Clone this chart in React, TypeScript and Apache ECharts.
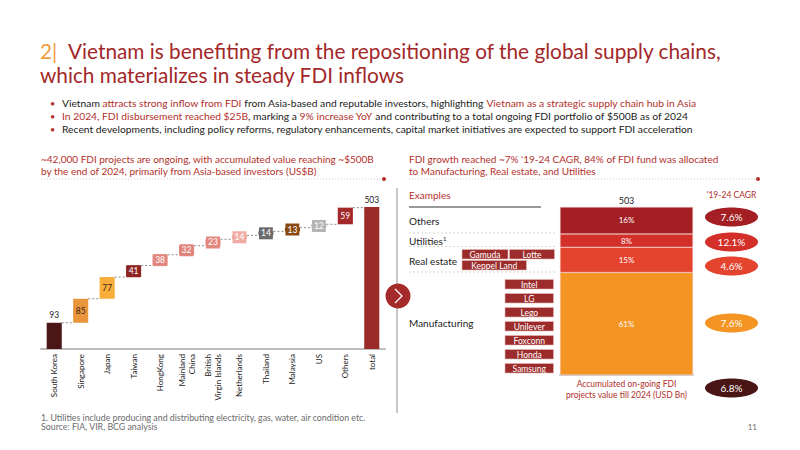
import React, { useEffect, useRef } from "react";
import * as echarts from "echarts";

// ---------- data ----------
const CATEGORIES = [
  "South Korea", "Singapore", "Japan", "Taiwan", "HongKong", "Mainland\nChina",
  "British\nVirgin Islands", "Netherlands", "Thailand", "Malaysia", "US", "Others", "total",
];
const VALUES = [93, 85, 77, 41, 38, 32, 23, 14, 14, 13, 12, 59, 503];
const BAR_COLORS = [
  "#4A1616", "#E9953C", "#F7AE3B", "#8E2424", "#E2877D", "#E0857B", "#E2877D",
  "#F0ABA4", "#6B6B6D", "#8A4A14", "#B4B4B4", "#A2282A", "#9B2B29",
];
const SECTORS = ["Manufacturing", "Real estate", "Utilities", "Others"];
const SECTOR_SHARE = [61, 15, 8, 16];
const SECTOR_COLORS = ["#F39423", "#E4432E", "#D3302A", "#A31F23"];
const SECTOR_CAGR = ["7.6%", "4.6%", "12.1%", "7.6%"];
const TOTAL_CAGR = "6.8%";
const TOTAL_FDI = 503;
const REAL_ESTATE_EXAMPLES = ["Gamuda", "Lotte", "Keppel Land"];
const MANUFACTURING_EXAMPLES = ["Intel", "LG", "Lego", "Unilever", "Foxconn", "Honda", "Samsung"];

const FONT = "Lato";
const RED = "#A3282A";
const ACCENT = "#B3302C";
const TAG = "#9B2C2B";

function txt(text: string, x: number, y: number, size: number, fill: string, align = "left", extra: any = {}) {
  return {
    type: "text",
    x, y,
    silent: true,
    style: { text, fill, fontSize: size, fontFamily: FONT, textAlign: align, textVerticalAlign: "middle", ...extra },
  };
}

export default function App() {
  const ref = useRef<HTMLDivElement>(null);
  useEffect(() => {
    if (!ref.current) return;
    const chart = echarts.init(ref.current, null, { renderer: "svg" });

    const n = VALUES.length;
    const bases: number[] = [];
    let cum = 0;
    for (let i = 0; i < n; i++) {
      if (i === n - 1) bases.push(0);
      else { bases.push(cum); cum += VALUES[i]; }
    }
    const ends = VALUES.map((v, i) => bases[i] + v);

    const barData = VALUES.map((v, i) => {
      const top = i === 0 || i === n - 1;
      const dark = i === 1 || i === 2;
      return {
        value: v,
        itemStyle: { color: BAR_COLORS[i] },
        label: top
          ? { position: "top", color: "#222", distance: 3 }
          : {
              position: "inside",
              color: dark ? "#3A2514" : "#fff",
              backgroundColor: BAR_COLORS[i],
              padding: [2, 2, 1, 2],
            },
      };
    });

    const connectors = VALUES.slice(0, n - 1).map((_, i) => [i, ends[i]]);

    const BS = 10.3;
    const rich = (size: number) => ({
      a: { fill: "#222", fontSize: size, fontFamily: FONT },
      r: { fill: ACCENT, fontSize: size, fontFamily: FONT },
    });

    const graphics: any[] = [];
    // Title
    graphics.push(txt("2|", 40, 50, 20.8, "#F39C3C"));
    graphics.push(txt("Vietnam is benefiting from the repositioning of the global supply chains,", 68, 50, 20.8, RED));
    graphics.push(txt("which materializes in steady FDI inflows", 40, 74, 20.8, RED));

    // Bullets
    const bulletY = [103, 116, 129];
    bulletY.forEach((y) => graphics.push(txt("•", 50, y, 9, ACCENT)));
    graphics.push(txt(
      "{a|Vietnam }{r|attracts strong inflow from FDI}{a| from Asia-based and reputable investors, highlighting }{r|Vietnam as a strategic supply chain hub in Asia}",
      62, 103, BS, "#222", "left", { rich: rich(BS) }));
    graphics.push(txt(
      "{r|In 2024, FDI disbursement reached $25B}{a|, marking a }{r|9% increase YoY}{a| and contributing to a total ongoing FDI portfolio of $500B as of 2024}",
      62, 116, BS, "#222", "left", { rich: rich(BS) }));
    graphics.push(txt(
      "Recent developments, including policy reforms, regulatory enhancements, capital market initiatives are expected to support FDI acceleration",
      62, 129, BS, "#222"));

    // Left subtitle
    graphics.push(txt("~42,000 FDI projects are ongoing, with accumulated value reaching ~$500B", 41, 159, 10, ACCENT));
    graphics.push(txt("by the end of 2024, primarily from Asia-based investors (US$B)", 41, 171, 10, ACCENT));
    graphics.push({ type: "line", silent: true, shape: { x1: 41, y1: 179, x2: 382, y2: 179 }, style: { stroke: "#CFCFCF", lineWidth: 1, lineDash: [1, 2] } });
    graphics.push({ type: "circle", silent: true, shape: { cx: 384, cy: 179, r: 2 }, style: { fill: ACCENT } });

    // Right subtitle
    graphics.push(txt("FDI growth reached ~7% '19-24 CAGR, 84% of FDI fund was allocated", 409, 159, 10, ACCENT));
    graphics.push(txt("to Manufacturing, Real estate, and Utilities", 409, 171, 10, ACCENT));
    graphics.push({ type: "line", silent: true, shape: { x1: 409, y1: 179, x2: 756, y2: 179 }, style: { stroke: "#CFCFCF", lineWidth: 1, lineDash: [1, 2] } });
    graphics.push({ type: "circle", silent: true, shape: { cx: 758, cy: 179, r: 2 }, style: { fill: ACCENT } });

    // Divider + arrow
    graphics.push({ type: "line", silent: true, shape: { x1: 397, y1: 188, x2: 397, y2: 413 }, style: { stroke: "#C8C8C8", lineWidth: 2 } });
    graphics.push({ type: "circle", silent: true, shape: { cx: 398, cy: 296, r: 12.5 }, style: { fill: "#A52A2A" } });
    graphics.push({ type: "polyline", silent: true, shape: { points: [[395, 289], [402, 296], [395, 303]] }, style: { stroke: "#fff", lineWidth: 1.3, fill: null } });

    // Examples table
    graphics.push(txt("Examples", 409, 195, 10, ACCENT));
    graphics.push({ type: "line", silent: true, shape: { x1: 409, y1: 207, x2: 541, y2: 207 }, style: { stroke: "#9A9A9A", lineWidth: 2 } });
    graphics.push(txt("Others", 409, 221, 10, "#222"));
    graphics.push(txt("{a|Utilities}{s|1}", 409, 241, 10, "#222", "left", {
      rich: { a: { fill: "#222", fontSize: 10, fontFamily: FONT }, s: { fill: "#222", fontSize: 6, fontFamily: FONT, verticalAlign: "top", padding: [0, 0, 5, 0] } },
    }));
    graphics.push(txt("Real estate", 409, 261, 10, "#222"));
    graphics.push(txt("Manufacturing", 409, 323, 10, "#222"));
    [233, 246.5, 272].forEach((y) =>
      graphics.push({ type: "line", silent: true, shape: { x1: 409, y1: y, x2: 556, y2: y }, style: { stroke: "#D5D5D5", lineWidth: 1, lineDash: [2, 2] } }));

    const tag = (label: string, x: number, y: number, w: number) => {
      graphics.push({ type: "rect", silent: true, shape: { x, y, width: w, height: 9.5 }, style: { fill: TAG, stroke: "#E7B9B5", lineWidth: 0.6 } });
      graphics.push(txt(label, x + w / 2, y + 5, 8.5, "#fff", "center"));
    };
    tag(REAL_ESTATE_EXAMPLES[0], 462, 249.5, 46);
    tag(REAL_ESTATE_EXAMPLES[1], 509.5, 249.5, 45);
    tag(REAL_ESTATE_EXAMPLES[2], 462, 260.5, 64.5);
    MANUFACTURING_EXAMPLES.forEach((m, i) => tag(m, 505, 279.5 + i * 14, 48.5));

    // 503 & caption
    graphics.push(txt(String(TOTAL_FDI), 626.5, 200, 9, "#222", "center"));
    graphics.push(txt("Accumulated on-going FDI", 626.5, 384, 8.5, ACCENT, "center"));
    graphics.push(txt("projects value till 2024 (USD Bn)", 626.5, 394.5, 8.5, ACCENT, "center"));

    // CAGR
    graphics.push(txt("'19-24 CAGR", 731.5, 195, 8.5, ACCENT, "center"));
    const cagrY = [323, 266, 242, 217];
    SECTORS.forEach((_, i) => {
      graphics.push({ type: "ellipse", silent: true, shape: { cx: 731.5, cy: cagrY[i], rx: 26.5, ry: 9.5 }, style: { fill: SECTOR_COLORS[i] } });
      graphics.push(txt(SECTOR_CAGR[i], 731.5, cagrY[i], 10, "#fff", "center"));
    });
    graphics.push({ type: "ellipse", silent: true, shape: { cx: 731.5, cy: 388, rx: 26.5, ry: 9.5 }, style: { fill: "#4A1515" } });
    graphics.push(txt(TOTAL_CAGR, 731.5, 388, 10, "#fff", "center"));

    // Footer
    graphics.push(txt("1. Utilities include producing and distributing electricity, gas, water, air condition etc.", 41, 417, 8.8, "#6B6B6B"));
    graphics.push(txt("Source: FIA, VIR, BCG analysis", 41, 426.5, 8.8, "#6B6B6B"));
    graphics.push(txt("11", 757, 426.5, 8, "#6B6B6B", "right"));

    chart.setOption({
      animation: false,
      textStyle: { fontFamily: FONT },
      grid: [
        { left: 41, width: 344, top: 191, height: 158 },
        { left: 560, width: 133, top: 207, height: 168 },
      ],
      xAxis: [
        {
          type: "category", gridIndex: 0, data: CATEGORIES,
          axisLine: { lineStyle: { color: "#BDBDBD", width: 2 } },
          axisTick: { show: false },
          axisLabel: { rotate: 90, fontSize: 8, color: "#222", interval: 0, margin: 5, lineHeight: 10, fontFamily: FONT },
        },
        {
          type: "category", gridIndex: 1, data: ["FDI"],
          axisLine: { lineStyle: { color: "#D0D0D0", width: 2 } },
          axisTick: { show: false }, axisLabel: { show: false },
        },
      ],
      yAxis: [
        { type: "value", gridIndex: 0, min: 0, max: 560, show: false, splitLine: { show: false } },
        { type: "value", gridIndex: 1, min: 0, max: 100, show: false, splitLine: { show: false } },
      ],
      series: [
        {
          type: "bar", xAxisIndex: 0, yAxisIndex: 0, stack: "w", barWidth: "57%",
          itemStyle: { color: "transparent" }, data: bases, silent: true,
        },
        {
          type: "bar", xAxisIndex: 0, yAxisIndex: 0, stack: "w", barWidth: "57%",
          data: barData,
          label: { show: true, fontSize: 8.5, fontFamily: FONT },
        },
        {
          type: "custom", xAxisIndex: 0, yAxisIndex: 0, data: connectors, silent: true, z: 1,
          renderItem: (params: any, api: any) => {
            const i = api.value(0);
            const v = api.value(1);
            const p1 = api.coord([i, v]);
            const p2 = api.coord([i + 1, v]);
            const hw = api.size([1, 0])[0] * 0.57 / 2;
            return {
              type: "line",
              shape: { x1: p1[0] + hw, y1: p1[1], x2: p2[0] - hw, y2: p2[1] },
              style: { stroke: "#8A8A8A", lineWidth: 1, lineDash: [2, 2] },
            };
          },
        },
        ...SECTORS.map((s, i) => ({
          type: "bar", name: s, xAxisIndex: 1, yAxisIndex: 1, stack: "s", barWidth: "100%",
          data: [SECTOR_SHARE[i]],
          itemStyle: { color: SECTOR_COLORS[i], borderColor: "#F3C9C2", borderWidth: 0.5 },
          label: { show: true, position: "inside", color: "#fff", fontSize: 8, fontFamily: FONT, formatter: "{c}%" },
        })),
      ],
      graphic: graphics,
    });
    return () => chart.dispose();
  }, []);
  return <div ref={ref} style={{ position: "absolute", left: 0, top: 0, width: 800, height: 450, background: "#fff" }} />;
}
